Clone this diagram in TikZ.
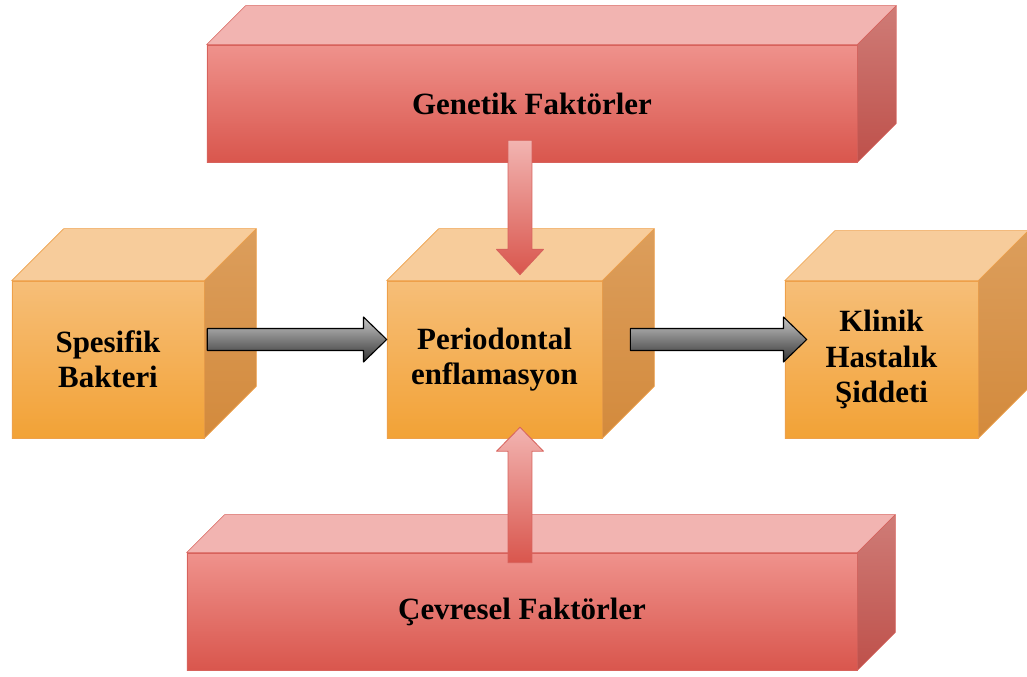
\documentclass[tikz,border=0pt]{standalone}
\usepackage{fontspec}
\setmainfont{Liberation Serif}
\usetikzlibrary{calc}
\definecolor{or-front1}{HTML}{F6BE78}
\definecolor{or-front2}{HTML}{F2A236}
\definecolor{or-top}{HTML}{F7CC9B}
\definecolor{or-side1}{HTML}{DC9E5C}
\definecolor{or-side2}{HTML}{D38A3C}
\definecolor{or-line}{HTML}{EEA04A}
\definecolor{rd-front1}{HTML}{EF928C}
\definecolor{rd-front2}{HTML}{D9564D}
\definecolor{rd-top}{HTML}{F2B4B1}
\definecolor{rd-side1}{HTML}{CF7C77}
\definecolor{rd-side2}{HTML}{BE504A}
\definecolor{rd-line}{HTML}{D7625C}
\tikzset{
  cube/.style={draw=or-line, top color=or-front1, bottom color=or-front2, minimum height=3.925cm, inner sep=0pt, align=center},
  bar/.style={draw=rd-line, top color=rd-front1, bottom color=rd-front2, minimum height=2.925cm, inner sep=0pt, align=center},
  grayarrow/.style={draw=black, line width=0.8pt, top color=black!22, bottom color=black!80},
  redarrow/.style={draw=rd-line, line width=0.6pt, top color=rd-top, bottom color=rd-front2}
}
\newcommand\blockarrow[6][]{%
  \path ($(#3)!#6!(#2)$) coordinate (hb);
  \path[#1] ($(#2)!#4!90:(#3)$) -- ($(hb)!#4!90:(#3)$) -- ($(hb)!#5!90:(#3)$) -- (#3)
    -- ($(hb)!#5!-90:(#3)$) -- ($(hb)!#4!-90:(#3)$) -- ($(#2)!#4!-90:(#3)$) -- cycle;}
\begin{document}
\begin{tikzpicture}[x=0.025cm, y=-0.025cm, font=\bfseries\fontsize{22}{25}\selectfont, line join=round]
	\useasboundingbox (0,0) rectangle (1027,677);
	\node[cube, minimum width=4.8cm] (spes) at (108,359.5) {Spesifik\\Bakteri};
	\node[cube, minimum width=5.375cm] (perio) at (494.5,359.5) {Periodontal\\enflamasyon};
	\node[cube, minimum width=4.825cm] (klinik) at (881.5,359.5) {Klinik\\Hastalık\\Şiddeti};
	\node[bar, minimum width=16.25cm] (gen) at (532,103.5) {Genetik Faktörler};
	\node[bar, minimum width=16.75cm] (cev) at (522,611.5) {Çevresel Faktörler};
	\foreach \n/\d/\c in {spes/52/or, perio/52/or, klinik/50/or, gen/39/rd, cev/38/rd} {
		\path[draw=\c-line, fill=\c-top] (\n.north west) -- ++(\d,-\d) -- ($(\n.north east)+(\d,-\d)$) -- (\n.north east) -- cycle;
		\path[draw=\c-line, top color=\c-side1, bottom color=\c-side2] (\n.north east) -- ++(\d,-\d) -- ($(\n.south east)+(\d,-\d)$) -- (\n.south east) -- cycle;
	}
	\path ($(spes.east)+(3,-20)$) coordinate (g1) ($(perio.west)+(0,-20)$) coordinate (g2)
		($(perio.east)+(28,-20)$) coordinate (g3) ($(klinik.west)+(22,-20)$) coordinate (g4)
		($(gen.south)+(-12,-22)$) coordinate (r1) ($(perio.north)+(25.5,-6)$) coordinate (r2)
		($(cev.north)+(-2,10)$) coordinate (r3) ($(perio.south)+(25.5,-11)$) coordinate (r4);
	\blockarrow[grayarrow]{g1}{g2}{7.8pt}{16pt}{16.5pt}
	\blockarrow[grayarrow]{g3}{g4}{7.8pt}{16pt}{16.5pt}
	\blockarrow[redarrow]{r1}{r2}{8.5pt}{16.7pt}{18pt}
	\blockarrow[redarrow]{r3}{r4}{8.5pt}{16.7pt}{17pt}
\end{tikzpicture}
\end{document}
